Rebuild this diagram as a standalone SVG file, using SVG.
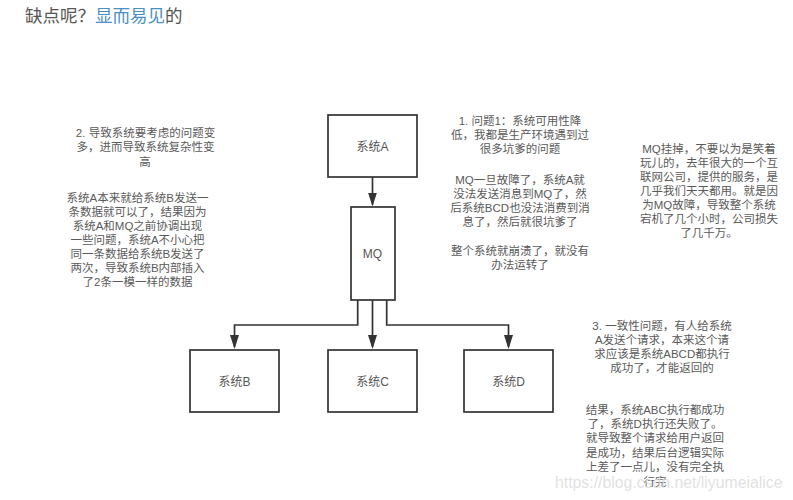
<svg xmlns="http://www.w3.org/2000/svg" width="793" height="500" viewBox="0 0 793 500">
<style>
text{font-family:"Liberation Sans","Noto Sans CJK SC",sans-serif}
.n rect{fill:#fff;stroke:#333;stroke-width:1.7}
.n text{font-size:12px;fill:#555;text-anchor:middle}
.t text{font-size:11.5px;fill:#5a5a5a;text-anchor:middle}
.c{fill:none;stroke:#333;stroke-width:1.7;marker-end:url(#a)}
</style>
<defs><marker id="a" markerUnits="userSpaceOnUse" markerWidth="14" markerHeight="9" refX="12" refY="4.500" orient="auto" viewBox="0 0 14 9"><path d="M0 0L14 4.500L0 9Z" fill="#333"/></marker></defs>
<rect width="793" height="500" fill="#fff"/>
<g id="title"><text x="25" y="22" font-size="17.500" fill="#555">缺点呢？<tspan fill="#4a90c4">显而易见</tspan>的</text></g>
<g id="connectors">
<path class="c" d="M372.500 177V204.500"/>
<path class="c" d="M372.500 300V347"/>
<path class="c" d="M357.700 300V325H234.500V347"/>
<path class="c" d="M386.700 300V325H508.500V347"/>
</g>
<g id="nodeA" class="n"><rect x="328" y="115" width="89" height="62"/><text x="372.500" y="151">系统A</text></g>
<g id="nodeMQ" class="n"><rect x="351" y="207" width="44" height="93"/><text x="372.500" y="258">MQ</text></g>
<g id="nodeB" class="n"><rect x="190" y="350" width="89" height="62"/><text x="234.500" y="386">系统B</text></g>
<g id="nodeC" class="n"><rect x="328" y="350" width="89" height="62"/><text x="372.500" y="386">系统C</text></g>
<g id="nodeD" class="n"><rect x="464" y="350" width="89" height="62"/><text x="508.500" y="386">系统D</text></g>
<g id="note2" class="t">
<text y="137"><tspan x="145.500">2. 导致系统要考虑的问题变</tspan><tspan x="145.500" dy="14.300">多，进而导致系统复杂性变</tspan><tspan x="145" dy="14.700">高</tspan></text>
<text y="201.500"><tspan x="137.500">系统A本来就给系统B发送一</tspan><tspan x="137.500" dy="14.100">条数据就可以了，结果因为</tspan><tspan x="137.500" dy="14.100">系统A和MQ之前协调出现</tspan><tspan x="137.500" dy="14.100">一些问题，系统A不小心把</tspan><tspan x="137.500" dy="14.100">同一条数据给系统B发送了</tspan><tspan x="137.500" dy="14.100">两次，导致系统B内部插入</tspan><tspan x="137.500" dy="14.400">了2条一模一样的数据</tspan></text>
</g>
<g id="note1" class="t">
<text y="124.500"><tspan x="520">1. 问题1：系统可用性降</tspan><tspan x="520" dy="14.300">低，我都是生产环境遇到过</tspan><tspan x="520" dy="14.300">很多坑爹的问题</tspan></text>
<text y="183.500"><tspan x="520">MQ一旦故障了，系统A就</tspan><tspan x="520" dy="14.300">没法发送消息到MQ了，然</tspan><tspan x="520" dy="14.300">后系统BCD也没法消费到消</tspan><tspan x="520" dy="14.300">息了，然后就很坑爹了</tspan></text>
<text y="254.500"><tspan x="520">整个系统就崩溃了，就没有</tspan><tspan x="520" dy="14.200">办法运转了</tspan></text>
</g>
<g id="note4" class="t">
<text y="152.500"><tspan x="709">MQ挂掉，不要以为是笑着</tspan><tspan x="709" dy="14">玩儿的，去年很大的一个互</tspan><tspan x="709" dy="14">联网公司，提供的服务，是</tspan><tspan x="709" dy="14">几乎我们天天都用。就是因</tspan><tspan x="709" dy="14">为MQ故障，导致整个系统</tspan><tspan x="709" dy="14">宕机了几个小时，公司损失</tspan><tspan x="709" dy="14.500">了几千万。</tspan></text>
</g>
<g id="note3" class="t">
<text y="329.500"><tspan x="662">3. 一致性问题，有人给系统</tspan><tspan x="662" dy="14.300">A发送个请求，本来这个请</tspan><tspan x="662" dy="14.300">求应该是系统ABCD都执行</tspan><tspan x="662" dy="14.300">成功了，才能返回的</tspan></text>
<text y="413.500"><tspan x="655">结果，系统ABC执行都成功</tspan><tspan x="655" dy="14.400">了，系统D执行还失败了。</tspan><tspan x="655" dy="14.400">就导致整个请求给用户返回</tspan><tspan x="655" dy="14.400">是成功，结果后台逻辑实际</tspan><tspan x="655" dy="14.400">上差了一点儿，没有完全执</tspan><tspan x="655" dy="14.400">行完</tspan></text>
</g>
<text id="watermark" x="555" y="487.500" font-size="15.800" fill="#dcdcdc" fill-opacity="0.85">https://blog.csdn.net/liyumeialice</text>
</svg>
